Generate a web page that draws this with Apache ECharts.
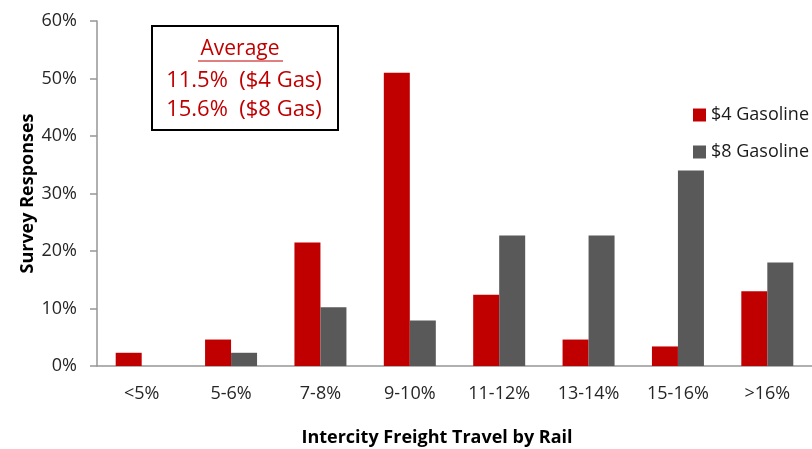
<!DOCTYPE html>
<html>
<head>
<meta charset="utf-8">
<script src="https://cdn.jsdelivr.net/npm/echarts@6/dist/echarts.min.js"></script>
<style>
  html, body { margin: 0; padding: 0; background: #fff; }
  #chart { width: 812px; height: 449px; }
</style>
</head>
<body>
<div id="chart"></div>
<script>
const categories = ['<5%', '5-6%', '7-8%', '9-10%', '11-12%', '13-14%', '15-16%', '>16%']
const gas4 = [2.3, 4.6, 21.5, 51.0, 12.4, 4.6, 3.4, 13.0]
const gas8 = [0, 2.3, 10.2, 7.9, 22.7, 22.7, 34.0, 18.0]
const averageLines = ['11.5%  ($4 Gas)', '15.6%  ($8 Gas)']

const FONT = '"Open Sans", "Noto Sans", sans-serif'
const RED = '#c00000'
const GREY = '#595959'

const chart = echarts.init(document.getElementById('chart'), null, { renderer: 'canvas' })

chart.setOption({
  backgroundColor: '#ffffff',
  animation: false,
  textStyle: { fontFamily: FONT },
  grid: { left: 97, top: 21, width: 724, height: 345, containLabel: false },
  legend: {
    orient: 'vertical',
    left: 688,
    top: 101,
    itemWidth: 13,
    itemHeight: 13,
    itemGap: 19,
    icon: 'rect',
    textStyle: { fontFamily: FONT, fontSize: 18, color: '#1a1a1a' },
    data: ['$4 Gasoline', '$8 Gasoline']
  },
  xAxis: {
    type: 'category',
    data: categories,
    axisLine: { lineStyle: { color: '#969696', width: 1.5 } },
    axisTick: { length: 7, lineStyle: { color: '#969696', width: 1.5 } },
    axisLabel: { fontFamily: FONT, fontSize: 18, color: '#262626', margin: 19 }
  },
  yAxis: {
    type: 'value',
    min: 0,
    max: 60,
    interval: 10,
    name: 'Survey Responses',
    nameLocation: 'middle',
    nameGap: 60,
    nameMoveOverlap: false,
    nameTextStyle: { fontFamily: FONT, fontSize: 18, fontWeight: 'bold', color: '#000' },
    axisLine: { show: true, lineStyle: { color: '#969696', width: 1.5 } },
    axisTick: { show: true, length: 7, lineStyle: { color: '#969696', width: 1.5 } },
    axisLabel: { fontFamily: FONT, fontSize: 18, color: '#262626', margin: 20, formatter: '{value}%' },
    splitLine: { show: false }
  },
  series: [
    {
      name: '$4 Gasoline',
      type: 'bar',
      data: gas4,
      barWidth: 26,
      barGap: '0%',
      itemStyle: { color: RED }
    },
    {
      name: '$8 Gasoline',
      type: 'bar',
      data: gas8,
      barWidth: 26,
      barGap: '0%',
      itemStyle: { color: GREY }
    }
  ],
  graphic: [
    {
      type: 'rect',
      shape: { x: 152, y: 26, width: 186, height: 104 },
      style: { fill: '#fff', stroke: '#000', lineWidth: 2 },
      z: 10
    },
    {
      type: 'text',
      x: 240, y: 49,
      style: { text: 'Average', fontFamily: FONT, fontSize: 21, fill: RED, align: 'center', verticalAlign: 'middle' },
      z: 11
    },
    {
      type: 'line',
      shape: { x1: 198, y1: 61, x2: 283, y2: 61 },
      style: { stroke: RED, lineWidth: 1 },
      z: 11
    },
    {
      type: 'text',
      x: 244, y: 81,
      style: { text: averageLines[0], fontFamily: FONT, fontSize: 22, fill: RED, align: 'center', verticalAlign: 'middle' },
      z: 11
    },
    {
      type: 'text',
      x: 244, y: 110,
      style: { text: averageLines[1], fontFamily: FONT, fontSize: 22, fill: RED, align: 'center', verticalAlign: 'middle' },
      z: 11
    },
    {
      type: 'text',
      x: 437, y: 438,
      style: { text: 'Intercity Freight Travel by Rail', fontFamily: FONT, fontSize: 18, fontWeight: 'bold', fill: '#000', align: 'center', verticalAlign: 'middle' }
    }
  ]
})
</script>
</body>
</html>
